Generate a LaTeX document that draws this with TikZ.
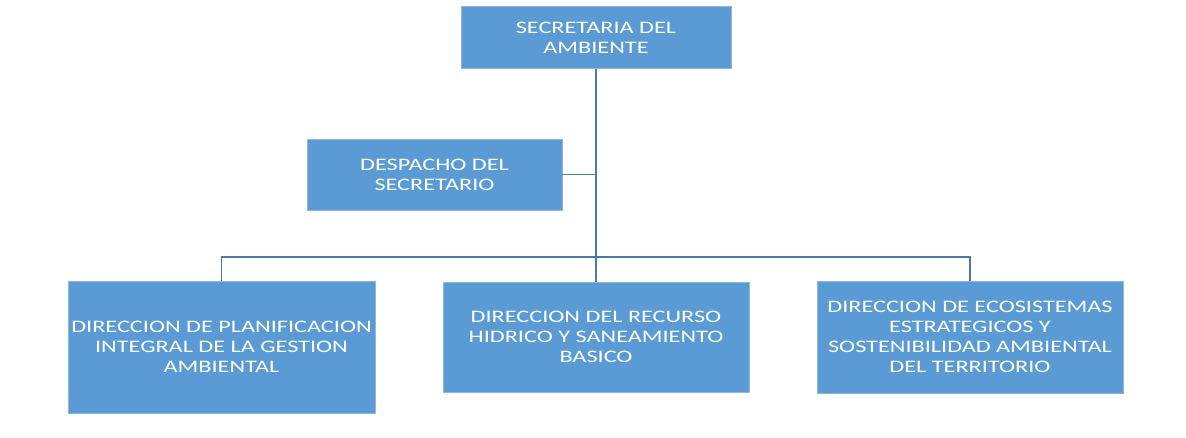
\documentclass[tikz,border=0pt]{standalone}
\usepackage{fontspec}
\setmainfont{Carlito}
\newfontfamily\widefont[FakeStretch=1.38]{Carlito}
\definecolor{boxblue}{HTML}{5B9BD5}
\definecolor{lineblue}{HTML}{4A7AAA}
\begin{document}
\begin{tikzpicture}[x=0.02cm, y=-0.02cm,
    unit/.style={fill=boxblue, draw=boxblue!70!white, line width=0.4pt, text=white, align=center,
        font=\widefont\fontsize{10}{11.4}\selectfont, inner sep=0pt},
    link/.style={draw=lineblue, line width=1.1pt}]
    \useasboundingbox (0,0) rectangle (1186,437);
    \node[unit, minimum width=5.4cm, minimum height=1.24cm] (sec) at (596,37.5) {SECRETARIA DEL\\AMBIENTE};
    \node[unit, minimum width=5.1cm, minimum height=1.42cm] (desp) at (434.5,174.5) {DESPACHO DEL\\SECRETARIO};
    \node[unit, minimum width=6.14cm, minimum height=2.64cm] (dir1) at (221.5,347) {DIRECCION DE PLANIFICACION\\INTEGRAL DE LA GESTION\\AMBIENTAL};
    \node[unit, minimum width=6.12cm, minimum height=2.2cm] (dir2) at (596,337) {DIRECCION DEL RECURSO\\HIDRICO Y SANEAMIENTO\\BASICO};
    \node[unit, minimum width=6.12cm, minimum height=2.24cm] (dir3) at (970,337) {DIRECCION DE ECOSISTEMAS\\ESTRATEGICOS Y\\SOSTENIBILIDAD AMBIENTAL\\DEL TERRITORIO};
    \coordinate (bus) at (596,257);
    \draw[link] (sec) -- (dir2);
    \draw[link] (desp.east) -- (desp.east -| sec.south);
    \draw[link] (dir1.north) |- (bus) -| (dir3.north);
\end{tikzpicture}
\end{document}
